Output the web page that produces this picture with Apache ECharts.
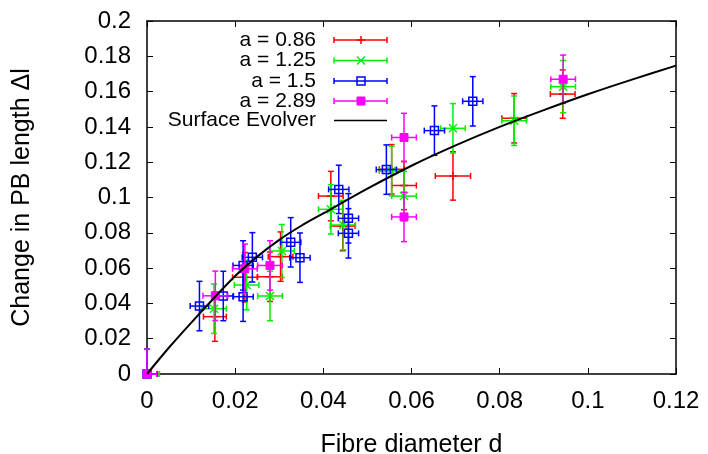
<!DOCTYPE html>
<html><head><meta charset="utf-8">
<script src="https://cdn.jsdelivr.net/npm/echarts@6/dist/echarts.min.js"></script>
<style>html,body{margin:0;padding:0;background:#fff}#c{width:708px;height:454px}</style>
</head><body><div id="c"></div>
<script>
// ---- data ----
const seriesNames = ['a = 0.86', 'a = 1.25', 'a = 1.5', 'a = 2.89'];
const curveName = 'Surface Evolver';

const redX    = [0, 0.0154, 0.0222, 0.0279, 0.0303, 0.0417, 0.0444, 0.0555, 0.0583, 0.0694, 0.0833, 0.0943];
const redY    = [0, 0.0325, 0.0548, 0.0551, 0.0665, 0.1008, 0.0838, 0.1160, 0.1068, 0.1122, 0.1449, 0.1586];
const redXErr = [0.0028, 0.0026, 0.0028, 0.0028, 0.0028, 0.0028, 0.0028, 0.0028, 0.0028, 0.0040, 0.0028, 0.0028];
const redYErr = [0.014, 0.014, 0.014, 0.014, 0.014, 0.014, 0.014, 0.014, 0.0137, 0.0137, 0.014, 0.0137];

const greenX    = [0, 0.0152, 0.0226, 0.0279, 0.0306, 0.0417, 0.0445, 0.0555, 0.0583, 0.0694, 0.0833, 0.0944];
const greenY    = [0, 0.0370, 0.0504, 0.0442, 0.0697, 0.0933, 0.0844, 0.1150, 0.1008, 0.1392, 0.1435, 0.1628];
const greenXErr = [0.0028, 0.0028, 0.0028, 0.0028, 0.0028, 0.0028, 0.0028, 0.0028, 0.0028, 0.0028, 0.0028, 0.0028];
const greenYErr = [0.014, 0.014, 0.014, 0.014, 0.015, 0.014, 0.014, 0.014, 0.014, 0.014, 0.014, 0.0148];

const blueX    = [0, 0.0119, 0.0173, 0.0218, 0.0218, 0.0239, 0.0326, 0.0347, 0.0435, 0.0457, 0.0457, 0.0543, 0.0652, 0.0739];
const blueY    = [0, 0.0385, 0.0442, 0.0438, 0.0615, 0.0661, 0.0746, 0.0659, 0.1046, 0.0882, 0.0797, 0.1158, 0.1379, 0.1545];
const blueXErr = [0.0023, 0.0021, 0.0023, 0.0023, 0.0023, 0.0023, 0.0023, 0.0023, 0.0023, 0.0023, 0.0023, 0.0023, 0.0023, 0.0023];
const blueYErr = [0.014, 0.014, 0.014, 0.014, 0.014, 0.014, 0.014, 0.014, 0.0137, 0.014, 0.014, 0.014, 0.014, 0.014];

const magentaX    = [0, 0.0155, 0.0222, 0.0279, 0.0583, 0.0583, 0.0944];
const magentaY    = [0, 0.0443, 0.0596, 0.0615, 0.1340, 0.0890, 0.1670];
const magentaXErr = [0.0022, 0.0028, 0.0028, 0.0028, 0.0028, 0.0028, 0.0028];
const magentaYErr = [0.014, 0.014, 0.014, 0.014, 0.0137, 0.014, 0.0137];

const curveX = [0, 0.005, 0.01, 0.015, 0.02, 0.025, 0.03, 0.035, 0.04, 0.05, 0.06, 0.07, 0.08, 0.09, 0.1, 0.11, 0.12];
const curveY = [0, 0.0150, 0.0290, 0.0425, 0.0555, 0.0665, 0.0760, 0.0840, 0.0910, 0.1050, 0.1180, 0.1295, 0.1400, 0.1495, 0.1585, 0.1668, 0.1747];

const xTickValues = ['0', '0.02', '0.04', '0.06', '0.08', '0.1', '0.12'];
const yTickValues = ['0', '0.02', '0.04', '0.06', '0.08', '0.1', '0.12', '0.14', '0.16', '0.18', '0.2'];

// ---- styles ----
const X_MIN = 0, X_MAX = 0.12, Y_MIN = 0, Y_MAX = 0.2;
const FONT = 'Liberation Sans';
const colors = ['#ff0000', '#00f000', '#0000ff', '#ff00ff'];
const kinds = ['plus', 'cross', 'square', 'fsquare'];
const LW = 1.5, CAP = 3, MS = 4;

function markerShapes(kind, cx, cy, color) {
  const st = { stroke: color, lineWidth: LW, fill: null };
  if (kind === 'plus') return [
    { type: 'line', shape: { x1: cx - MS, y1: cy, x2: cx + MS, y2: cy }, style: st },
    { type: 'line', shape: { x1: cx, y1: cy - MS, x2: cx, y2: cy + MS }, style: st }];
  if (kind === 'cross') return [
    { type: 'line', shape: { x1: cx - MS, y1: cy - MS, x2: cx + MS, y2: cy + MS }, style: st },
    { type: 'line', shape: { x1: cx - MS, y1: cy + MS, x2: cx + MS, y2: cy - MS }, style: st }];
  if (kind === 'square') return [
    { type: 'rect', shape: { x: cx - MS, y: cy - MS, width: 2 * MS, height: 2 * MS }, style: { stroke: color, lineWidth: LW, fill: null } }];
  return [{ type: 'rect', shape: { x: cx - MS, y: cy - MS, width: 2 * MS, height: 2 * MS }, style: { fill: color, stroke: color, lineWidth: 1 } }];
}

function makeRender(kind, color) {
  return function (params, api) {
    const x = api.value(0), y = api.value(1), ex = api.value(2), ey = api.value(3);
    const st = { stroke: color, lineWidth: LW };
    const xl = Math.max(x - ex, X_MIN), xr = Math.min(x + ex, X_MAX);
    const yl = Math.max(y - ey, Y_MIN), yh = Math.min(y + ey, Y_MAX);
    const c = api.coord([x, y]);
    const pL = api.coord([xl, y]), pR = api.coord([xr, y]);
    const pB = api.coord([x, yl]), pT = api.coord([x, yh]);
    const ch = [];
    ch.push({ type: 'line', shape: { x1: pL[0], y1: c[1], x2: pR[0], y2: c[1] }, style: st });
    ch.push({ type: 'line', shape: { x1: c[0], y1: pB[1], x2: c[0], y2: pT[1] }, style: st });
    if (xl === x - ex) ch.push({ type: 'line', shape: { x1: pL[0], y1: c[1] - CAP, x2: pL[0], y2: c[1] + CAP }, style: st });
    if (xr === x + ex) ch.push({ type: 'line', shape: { x1: pR[0], y1: c[1] - CAP, x2: pR[0], y2: c[1] + CAP }, style: st });
    if (yl === y - ey) ch.push({ type: 'line', shape: { x1: c[0] - CAP, y1: pB[1], x2: c[0] + CAP, y2: pB[1] }, style: st });
    if (yh === y + ey) ch.push({ type: 'line', shape: { x1: c[0] - CAP, y1: pT[1], x2: c[0] + CAP, y2: pT[1] }, style: st });
    markerShapes(kind, c[0], c[1], color).forEach(s => ch.push(s));
    return { type: 'group', children: ch };
  };
}

function zip4(a, b, c, d) { return a.map((v, i) => [v, b[i], c[i], d[i]]); }
const sets = [
  zip4(redX, redY, redXErr, redYErr),
  zip4(greenX, greenY, greenXErr, greenYErr),
  zip4(blueX, blueY, blueXErr, blueYErr),
  zip4(magentaX, magentaY, magentaXErr, magentaYErr)
];

const series = sets.map((d, i) => ({
  name: seriesNames[i], type: 'custom', xAxisIndex: 0, yAxisIndex: 0,
  clip: false, silent: true, z: 3 + i,
  renderItem: makeRender(kinds[i], colors[i]),
  encode: { x: 0, y: 1 }, data: d
}));
series.push({
  name: curveName, type: 'line', xAxisIndex: 0, yAxisIndex: 0, smooth: 0.3,
  showSymbol: false, symbol: 'none', z: 10, silent: true,
  lineStyle: { color: '#000', width: 2 },
  data: curveX.map((v, i) => [v, curveY[i]])
});

// ---- legend drawn as graphics (texts are real text) ----
const legendNames = seriesNames.concat([curveName]);
const LEG_TX = 316, LEG_X1 = 334, LEG_X2 = 387, LEG_MX = 361;
const legendRows = [40, 60.5, 81, 101, 120.5];
const graphic = [];
legendNames.forEach((nm, i) => {
  const y = legendRows[i];
  graphic.push({ type: 'text', x: LEG_TX, y: y, style: { text: nm, fill: '#000', font: '21px "' + FONT + '"', textAlign: 'right', textVerticalAlign: 'middle' } });
  if (i < 4) {
    const col = colors[i], st = { stroke: col, lineWidth: LW };
    graphic.push({ type: 'line', shape: { x1: LEG_X1, y1: y, x2: LEG_X2, y2: y }, style: st });
    graphic.push({ type: 'line', shape: { x1: LEG_X1, y1: y - CAP, x2: LEG_X1, y2: y + CAP }, style: st });
    graphic.push({ type: 'line', shape: { x1: LEG_X2, y1: y - CAP, x2: LEG_X2, y2: y + CAP }, style: st });
    markerShapes(kinds[i], LEG_MX, y, col).forEach(s => graphic.push(s));
  } else {
    graphic.push({ type: 'line', shape: { x1: LEG_X1, y1: y, x2: LEG_X2, y2: y }, style: { stroke: '#000', lineWidth: 1.5 } });
  }
});

const axisCommon = {
  axisLine: { show: true, onZero: false, lineStyle: { color: '#000', width: 1.5 } },
  axisTick: { show: true, inside: true, length: 6, lineStyle: { color: '#000', width: 1 } },
  splitLine: { show: false }
};

const chart = echarts.init(document.getElementById('c'), null, { renderer: 'canvas' });
chart.setOption({
  animation: false,
  backgroundColor: '#fff',
  textStyle: { fontFamily: FONT },
  grid: { left: 147, right: 32, top: 21, bottom: 80, containLabel: false, outerBoundsMode: 'none' },
  xAxis: [
    Object.assign({ type: 'value', position: 'bottom', min: X_MIN, max: X_MAX, interval: 0.02,
      name: 'Fibre diameter d', nameLocation: 'middle', nameGap: 59,
      nameTextStyle: { fontSize: 25, color: '#000', fontFamily: FONT },
      axisLabel: { fontSize: 24, color: '#000', margin: 15, fontFamily: FONT,
        formatter: (v) => xTickValues[Math.round(v / 0.02)] } }, axisCommon),
    Object.assign({ type: 'value', position: 'top', min: X_MIN, max: X_MAX, interval: 0.02,
      axisLabel: { show: false } }, axisCommon)
  ],
  yAxis: [
    Object.assign({ type: 'value', position: 'left', min: Y_MIN, max: Y_MAX, interval: 0.02,
      name: 'Change in PB length \u0394l', nameLocation: 'middle', nameGap: 112,
      nameTextStyle: { fontSize: 25, color: '#000', fontFamily: FONT },
      axisLabel: { fontSize: 24, color: '#000', margin: 16, fontFamily: FONT,
        formatter: (v) => yTickValues[Math.round(v / 0.02)] } }, axisCommon),
    Object.assign({ type: 'value', position: 'right', min: Y_MIN, max: Y_MAX, interval: 0.02,
      axisLabel: { show: false } }, axisCommon)
  ],
  graphic: graphic,
  series: series
});
</script></body></html>
